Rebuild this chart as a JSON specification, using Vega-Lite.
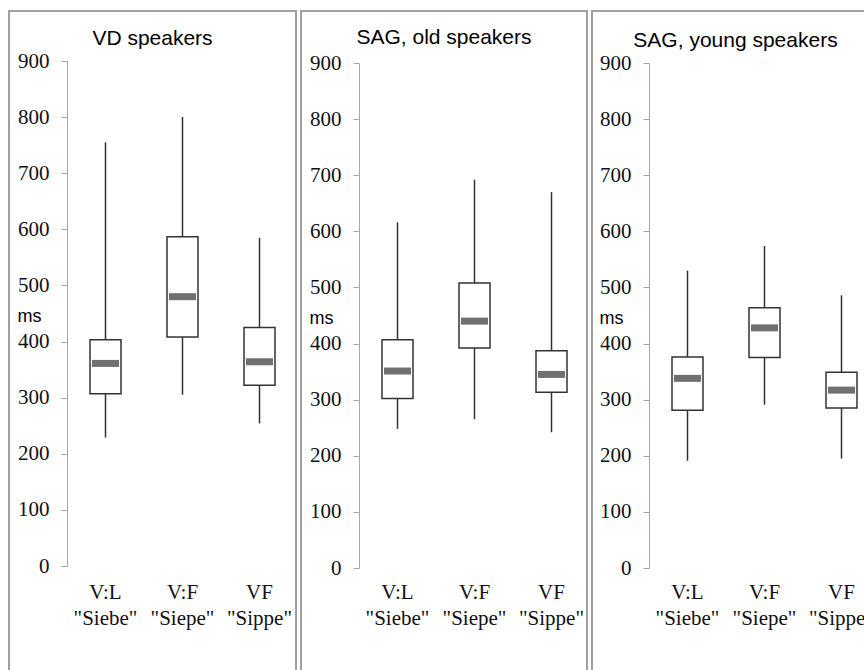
{
  "$schema": "https://vega.github.io/schema/vega-lite/v6.json",
  "padding": {"left": 8, "top": 10, "right": 0, "bottom": 0},
  "background": "white",
  "spacing": 3,
  "config": {"view": {"stroke": "#a0a0a0", "strokeWidth": 2}, "axis": {"grid": false}},
  "datasets": {
    "boxes": [
      {"group": "VD", "cat": "V:L|\"Siebe\"", "min": 229, "q1": 307, "median": 361, "q3": 403, "max": 755},
      {"group": "VD", "cat": "V:F|\"Siepe\"", "min": 305, "q1": 408, "median": 480, "q3": 587, "max": 800},
      {"group": "VD", "cat": "VF|\"Sippe\"", "min": 254, "q1": 322, "median": 364, "q3": 425, "max": 585},
      {"group": "old", "cat": "V:L|\"Siebe\"", "min": 248, "q1": 302, "median": 351, "q3": 407, "max": 616},
      {"group": "old", "cat": "V:F|\"Siepe\"", "min": 265, "q1": 392, "median": 440, "q3": 508, "max": 692},
      {"group": "old", "cat": "VF|\"Sippe\"", "min": 242, "q1": 313, "median": 345, "q3": 387, "max": 670},
      {"group": "young", "cat": "V:L|\"Siebe\"", "min": 191, "q1": 281, "median": 338, "q3": 376, "max": 530},
      {"group": "young", "cat": "V:F|\"Siepe\"", "min": 291, "q1": 375, "median": 428, "q3": 464, "max": 574},
      {"group": "young", "cat": "VF|\"Sippe\"", "min": 195, "q1": 285, "median": 317, "q3": 349, "max": 486}
    ]
  },
  "hconcat": [
    {
      "width": 287, "height": 665,
      "title": {"text": "VD speakers", "offset": -38, "anchor": "middle", "font": "Liberation Sans", "fontSize": 21, "fontWeight": "normal", "color": "#000"},
      "data": {"name": "boxes"},
      "transform": [{"filter": "datum.group == 'VD'"}],
      "encoding": {
        "x": {"field": "cat", "type": "nominal", "sort": null,
          "scale": {"domain": ["V:L|\"Siebe\"", "V:F|\"Siepe\"", "VF|\"Sippe\""], "range": [58, 289], "paddingInner": 0, "paddingOuter": 0},
          "axis": {"title": null, "domain": false, "ticks": false, "labelExpr": "split(datum.label, '|')", "labelFont": "Liberation Serif", "labelFontSize": 21, "labelColor": "#111", "labelLineHeight": 26, "labelPadding": 8, "offset": -103, "labelAngle": 0}},
        "y": {"field": "min", "type": "quantitative",
            "scale": {"domain": [0, 900], "range": [555, 50], "nice": false, "zero": false},
            "axis": {"title": "ms", "titleAngle": 0, "titleAlign": "left", "titleBaseline": "alphabetic", "titleX": -50, "titleY": 310, "titleFont": "Liberation Sans", "titleFontSize": 18, "titleFontWeight": "normal", "titleColor": "#000",
              "values": [0, 100, 200, 300, 400, 500, 600, 700, 800, 900], "format": "d", "offset": -58, "domainColor": "#a6a6a6", "tickColor": "#a6a6a6", "tickSize": 6, "labelFont": "Liberation Serif", "labelFontSize": 21, "labelColor": "#111", "labelPadding": 12}}
      },
      "layer": [
        {"mark": {"type": "rule", "color": "#333", "strokeWidth": 1.5},
         "encoding": {"y2": {"field": "max"}}},
        {"mark": {"type": "bar", "fill": "white", "stroke": "#333", "strokeWidth": 1.5, "width": 31, "opacity": 1},
         "encoding": {"y": {"field": "q1", "type": "quantitative"}, "y2": {"field": "q3"}}},
        {"mark": {"type": "tick", "color": "#707070", "size": 27, "thickness": 7, "opacity": 1},
         "encoding": {"y": {"field": "median", "type": "quantitative"}}}
      ]
    },
    {
      "width": 286, "height": 665,
      "title": {"text": "SAG, old speakers", "offset": -37, "anchor": "middle", "font": "Liberation Sans", "fontSize": 21, "fontWeight": "normal", "color": "#000"},
      "data": {"name": "boxes"},
      "transform": [{"filter": "datum.group == 'old'"}],
      "encoding": {
        "x": {"field": "cat", "type": "nominal", "sort": null,
          "scale": {"domain": ["V:L|\"Siebe\"", "V:F|\"Siepe\"", "VF|\"Sippe\""], "range": [58, 289], "paddingInner": 0, "paddingOuter": 0},
          "axis": {"title": null, "domain": false, "ticks": false, "labelExpr": "split(datum.label, '|')", "labelFont": "Liberation Serif", "labelFontSize": 21, "labelColor": "#111", "labelLineHeight": 26, "labelPadding": 8, "offset": -103, "labelAngle": 0}},
        "y": {"field": "min", "type": "quantitative",
            "scale": {"domain": [0, 900], "range": [557, 52], "nice": false, "zero": false},
            "axis": {"title": "ms", "titleAngle": 0, "titleAlign": "left", "titleBaseline": "alphabetic", "titleX": -50, "titleY": 312, "titleFont": "Liberation Sans", "titleFontSize": 18, "titleFontWeight": "normal", "titleColor": "#000",
              "values": [0, 100, 200, 300, 400, 500, 600, 700, 800, 900], "format": "d", "offset": -58, "domainColor": "#a6a6a6", "tickColor": "#a6a6a6", "tickSize": 6, "labelFont": "Liberation Serif", "labelFontSize": 21, "labelColor": "#111", "labelPadding": 12}}
      },
      "layer": [
        {"mark": {"type": "rule", "color": "#333", "strokeWidth": 1.5},
         "encoding": {"y2": {"field": "max"}}},
        {"mark": {"type": "bar", "fill": "white", "stroke": "#333", "strokeWidth": 1.5, "width": 31, "opacity": 1},
         "encoding": {"y": {"field": "q1", "type": "quantitative"}, "y2": {"field": "q3"}}},
        {"mark": {"type": "tick", "color": "#707070", "size": 27, "thickness": 7, "opacity": 1},
         "encoding": {"y": {"field": "median", "type": "quantitative"}}}
      ]
    },
    {
      "width": 287, "height": 665,
      "title": {"text": "SAG, young speakers", "offset": -40, "anchor": "middle", "font": "Liberation Sans", "fontSize": 21, "fontWeight": "normal", "color": "#000"},
      "data": {"name": "boxes"},
      "transform": [{"filter": "datum.group == 'young'"}],
      "encoding": {
        "x": {"field": "cat", "type": "nominal", "sort": null,
          "scale": {"domain": ["V:L|\"Siebe\"", "V:F|\"Siepe\"", "VF|\"Sippe\""], "range": [57, 288], "paddingInner": 0, "paddingOuter": 0},
          "axis": {"title": null, "domain": false, "ticks": false, "labelExpr": "split(datum.label, '|')", "labelFont": "Liberation Serif", "labelFontSize": 21, "labelColor": "#111", "labelLineHeight": 26, "labelPadding": 8, "offset": -103, "labelAngle": 0}},
        "y": {"field": "min", "type": "quantitative",
            "scale": {"domain": [0, 900], "range": [557, 52], "nice": false, "zero": false},
            "axis": {"title": "ms", "titleAngle": 0, "titleAlign": "left", "titleBaseline": "alphabetic", "titleX": -50, "titleY": 312, "titleFont": "Liberation Sans", "titleFontSize": 18, "titleFontWeight": "normal", "titleColor": "#000",
              "values": [0, 100, 200, 300, 400, 500, 600, 700, 800, 900], "format": "d", "offset": -57, "domainColor": "#a6a6a6", "tickColor": "#a6a6a6", "tickSize": 6, "labelFont": "Liberation Serif", "labelFontSize": 21, "labelColor": "#111", "labelPadding": 12}}
      },
      "layer": [
        {"mark": {"type": "rule", "color": "#333", "strokeWidth": 1.5},
         "encoding": {"y2": {"field": "max"}}},
        {"mark": {"type": "bar", "fill": "white", "stroke": "#333", "strokeWidth": 1.5, "width": 31, "opacity": 1},
         "encoding": {"y": {"field": "q1", "type": "quantitative"}, "y2": {"field": "q3"}}},
        {"mark": {"type": "tick", "color": "#707070", "size": 27, "thickness": 7, "opacity": 1},
         "encoding": {"y": {"field": "median", "type": "quantitative"}}}
      ]
    }
  ]
}
